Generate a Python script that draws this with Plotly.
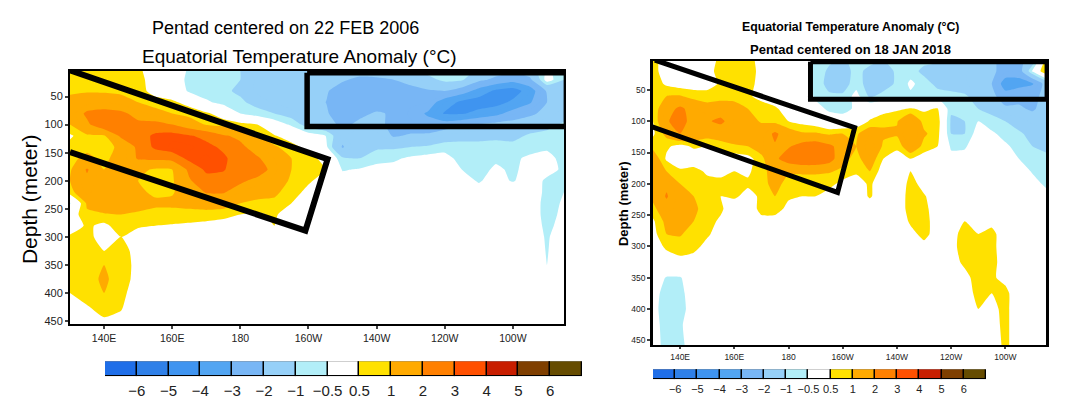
import plotly.graph_objects as go

lons = [130,135,140,145,150,155,160,165,170,175,180,185,190,195,200,205,210,215,220,225,230,235,240,245,250,255,260,265,270,275]
depths = [3,20,40,60,80,100,120,140,160,180,200,220,240,260,280,300,325,350,375,400,425,458]

temp_2006 = [
[0.7,0.7,0.6,0.8,0.6,0.2,0,-0.6,-0.8,-0.9,-1.0,-1.3,-1.2,-1.4,-1.5,-1.6,-1.7,-1.8,-1.7,-1.5,-1.2,-0.7,-0.3,-0.4,-1.2,-1.6,-1.8,-1.4,-0.4,-0.8],
[0.8,0.9,0.6,0.8,0.7,0.2,0,-0.7,-0.9,-0.9,-1.0,-1.6,-1.3,-1.6,-1.7,-1.8,-1.95,-2.1,-2.1,-2.0,-1.8,-1.3,-0.8,-0.9,-1.8,-2.2,-2.6,-2.2,-0.2,-1.0],
[0.9,0.95,0.9,0.85,0.7,0.3,0.1,-0.6,-0.8,-0.9,-1.1,-1.6,-1.7,-1.8,-1.9,-1.95,-2.2,-2.3,-2.3,-2.4,-2.2,-2.1,-2.0,-2.5,-3.4,-4.2,-4.5,-3.5,-1.9,-1.6],
[1.2,1.3,1.5,1.3,1.0,0.7,0.6,0.3,-0.4,-0.7,-0.9,-1.2,-1.6,-1.8,-2.0,-2.0,-2.4,-2.5,-2.5,-2.4,-2.4,-2.5,-3.5,-4.2,-4.5,-4.4,-3.8,-3.1,-2.0,-1.7],
[1.2,2.2,2.3,2.2,1.7,1.3,1.0,0.8,0.6,0.2,-0.5,-0.8,-1.0,-1.3,-1.7,-1.9,-2.4,-2.2,-1.9,-2.1,-2.6,-3.1,-4.1,-4.1,-3.7,-3.3,-2.6,-2.2,-1.7,-1.3],
[1.0,1.8,2.8,2.3,2.2,2.3,2.0,1.4,0.95,0.8,0.7,0.5,-0.1,-0.6,-1.3,-1.6,-2.2,-1.8,-1.8,-2.2,-2.4,-2.7,-2.5,-2.2,-1.9,-1.7,-1.6,-1.4,-1.2,-0.9],
[0.4,0.9,0.9,2.2,2.5,3.2,3.4,3.1,2.7,2.1,1.8,1.0,0.55,0.2,-0.2,-0.5,-1.6,-1.1,-1.3,-2.1,-1.9,-1.8,-1.4,-1.2,-1.2,-1.2,-1.2,-0.9,-0.8,-0.7],
[0.7,0.9,0.7,1.2,2.2,3.2,3.6,3.6,3.3,2.8,2.2,1.6,1.1,0.7,0.3,-0.3,-2.1,-1.0,-1.1,-1.1,-1.0,-0.9,-0.7,-0.8,-0.8,-0.7,-0.8,-0.7,-0.6,-0.6],
[0.9,1.1,0.9,1.2,2.1,2.2,2.3,3.3,3.6,3.2,2.4,2.1,1.5,1.0,0.7,0.3,-0.9,-1.0,-0.7,-0.6,-0.4,-0.3,-0.3,-0.7,-0.9,-0.6,-0.6,-0.4,-0.3,-0.7],
[0.9,2.1,1.0,1.1,1.2,0.9,1.0,2.2,3.2,3.1,2.3,2.6,1.6,1.0,0.9,0.5,-0.55,-0.45,-0.3,-0.3,-0.2,-0.2,-0.2,-0.5,-0.7,-0.4,-0.6,-0.3,-0.3,-0.6],
[1.0,1.8,1.2,1.2,1.0,0.8,0.9,1.9,2.6,2.5,2.2,1.7,1.4,0.9,0.6,0.2,-0.2,-0.1,-0.1,-0.1,-0.1,-0.1,-0.1,-0.3,-0.55,-0.3,-0.55,-0.2,-0.6,-0.7],
[0.8,1.6,1.2,1.3,1.1,0.9,0.95,1.3,2.1,2.1,1.5,1.2,1.1,0.8,0.3,0,0,0,0,0,0,0,0,0,-0.3,0,0,0,-0.7,-0.5],
[-0.55,1.1,1.4,1.4,1.3,1.1,1.1,1.2,1.3,1.3,1.0,0.9,0.9,0.5,0,0,0,0,0,0,0,0,0,0,0,0,0,0,-0.8,-0.4],
[0.1,0.9,0.95,1.0,0.9,0.85,0.85,0.8,0.8,0.7,0.5,0.4,0.6,0.1,0,0,0,0,0,0,0,0,0,0,0,0,0,0,-0.8,-0.3],
[0.1,0.6,0.35,0.8,0.6,0.5,0.45,0.4,0.3,0.2,0.1,0.1,0.5,0,0,0,0,0,0,0,0,0,0,0,0,0,0,0,-0.7,-0.2],
[0.6,0.7,0.2,0.5,0.1,0,0,0,0,0,0,0,0,0,0,0,0,0,0,0,0,0,0,0,0,0,0,0,-0.6,0],
[0.7,0.8,0.5,0.8,0.2,0,0,0,0,0,0,0,0,0,0,0,0,0,0,0,0,0,0,0,0,0,0,0,-0.55,0],
[0.8,0.8,1.0,0.8,0.3,0,0,0,0,0,0,0,0,0,0,0,0,0,0,0,0,0,0,0,0,0,0,0,-0.5,0],
[0.7,0.8,1.1,0.75,0.3,0,0,0,0,0,0,0,0,0,0,0,0,0,0,0,0,0,0,0,0,0,0,0,-0.3,0],
[0.5,0.8,1.0,0.65,0.2,0,0,0,0,0,0,0,0,0,0,0,0,0,0,0,0,0,0,0,0,0,0,0,0,0],
[0.3,0.45,0.75,0.55,0.1,0,0,0,0,0,0,0,0,0,0,0,0,0,0,0,0,0,0,0,0,0,0,0,0,0],
[0,0.2,0.3,0.3,0,0,0,0,0,0,0,0,0,0,0,0,0,0,0,0,0,0,0,0,0,0,0,0,0,0],
]

temp_2018 = [
[0.7,0.2,0.1,0.1,0.1,0.7,0.8,0.8,0.2,0.1,0,0,-0.6,-0.9,-1.1,-0.8,-0.8,-1.0,-0.9,-0.4,-0.8,-0.9,-1.0,-1.2,-1.7,-1.9,-2.2,-2.3,-1.5,0.7],
[0.7,0.2,0.1,0.1,0.2,0.8,0.9,0.8,0.3,0,0,0,-0.7,-1.1,-1.3,-0.8,-1.2,-1.3,-0.9,-0.7,-1.2,-1.3,-1.3,-1.4,-1.9,-1.8,-2.4,-2.5,-0.4,1.1],
[0.8,0.4,0.2,0.2,0.2,0.6,0.9,0.7,0.3,0.1,0,0,-0.7,-1.2,-1.3,-0.7,-1.3,-1.3,-0.9,-0.4,-0.7,-1.2,-1.3,-1.4,-1.9,-2.0,-3.5,-3.4,-3.1,-1.6],
[0.6,1.0,1.05,0.8,0.8,0.7,0.7,0.6,0.3,0.1,0.1,0,-0.6,-0.9,-0.9,-0.3,-1.1,-0.8,-0.7,-0.6,-0.6,-0.7,-0.8,-0.9,-1.3,-1.7,-2.6,-2.2,-2.2,-1.8],
[0.6,1.6,2.2,1.6,1.2,1.5,1.4,1.0,0.8,0.6,0.2,-0.1,-0.3,-0.6,-0.7,-0.4,0.1,0.2,0.4,0.55,0.4,0.55,-0.9,-0.9,-1.0,-1.2,-1.8,-1.9,-2.1,-1.7],
[0.5,1.9,2.4,1.6,1.9,2.2,1.5,1.2,0.95,0.8,0.5,0.3,0.1,-0.2,-0.2,0.1,0.55,0.9,0.95,1.7,0.8,0.8,-1.1,-1.0,-0.5,-0.8,-1.0,-1.3,-1.6,-1.6],
[0.4,1.2,2.0,1.5,1.3,1.4,1.5,1.5,1.3,2.2,1.4,1.1,1.1,0.9,1.0,0.9,1.5,1.1,1.1,2.0,1.1,0.7,-1.0,-1.0,-0.2,-0.4,-0.7,-0.9,-1.2,-1.4],
[0.8,0.6,0.3,0.6,0.5,0.7,0.9,1.0,1.4,1.9,1.9,2.4,2.6,2.2,1.6,1.0,1.8,0.9,0.6,1.6,0.8,0.5,-0.6,-0.6,0,-0.2,-0.4,-0.7,-1.0,-1.1],
[1.5,0.4,0.1,0.1,0.1,0.2,0.2,0.3,0.8,1.8,2.5,2.9,2.9,2.5,1.2,0.8,1.4,0.5,0.3,0.5,0.2,0,-0.3,-0.2,-0.1,0,-0.2,-0.5,-0.8,-0.9],
[1.5,1.0,0.6,0.7,0.4,0.4,0.5,0.4,0.8,1.3,1.1,1.1,1.1,1.05,0.9,0.6,1.0,0.2,0.1,0.5,0.1,0,0,0,0,0,0,-0.2,-0.55,-0.7],
[1.6,1.8,1.0,0.9,0.7,0.6,0.7,0.6,0.7,1.3,0.7,0.7,0.7,0.7,0.3,0.2,0.6,0.1,0,0.7,0.3,0,0,0,0,0,0,0,-0.3,-0.6],
[1.2,2.1,1.2,1.0,0.8,0.5,0.6,0.3,0.6,1.0,0.6,0.5,0.5,0.2,0,0,0.6,0,0,0.8,0.55,0.2,0,0,0,0,0,0,-0.3,-0.3],
[0.8,1.6,1.4,1.1,0.8,0.6,0.1,0.1,0.7,0.8,0.3,0.1,0,0,0,0,0,0,0,0.8,0.7,0.1,0,0,0,0,0,0,0,0],
[0.4,1.2,1.2,1.0,0.7,0.4,0,0,0.3,0.2,0,0,0,0,0,0,0,0,0,0.6,0.8,0.1,0.1,0.5,0.1,0.3,0,0,0,0],
[0.3,1.0,1.05,0.8,0.6,0.2,0,0,0,0,0,0,0,0,0,0,0,0,0,0.3,0.7,0.2,0.2,0.8,0.5,0.7,0.1,0,0,0],
[0.2,0.6,0.8,0.7,0.3,0.1,0,0,0,0,0,0,0,0,0,0,0,0,0,0,0.3,0,0.2,0.9,0.9,0.7,0.1,0,0,0],
[0,0.2,0.3,0.2,0,0,0,0,0,0,0,0,0,0,0,0,0,0,0,0,0,0,0.1,0.7,0.9,0.7,0.2,0,0,0],
[-0.1,-0.55,-0.55,-0.1,0,0,0,0,0,0,0,0,0,0,0,0,0,0,0,0,0,0,0,0.2,0.9,0.6,0.3,0,0,0],
[-0.2,-0.8,-0.7,-0.1,0,0,0,0,0,0,0,0,0,0,0,0,0,0,0,0,0,0,0,0,0.8,0.5,0.7,0,0,0],
[-0.3,-0.8,-0.8,-0.1,0,0,0,0,0,0,0,0,0,0,0,0,0,0,0,0,0,0,0,0,0.5,0.3,0.7,0,0,0],
[-0.2,-0.8,-0.6,-0.1,0,0,0,0,0,0,0,0,0,0,0,0,0,0,0,0,0,0,0,0,0,0.2,0.7,0,0,0],
[-0.1,-0.8,-0.7,-0.1,0,0,0,0,0,0,0,0,0,0,0,0,0,0,0,0,0,0,0,0,0,0,0.7,0,0,0],
]

band_edges = [-6.25,-6,-5,-4,-3,-2,-1,-0.5,0.5,1,2,3,4,5,6,6.25]
band_colors = ["#1f6ee8","#2f80e8","#3f94f0","#52a5f2","#78b6f5","#96d0f8","#b2eef8","#ffffff",
               "#ffe100","#ffaa00","#ff8000","#ff5000","#c81e00","#7f3f00","#664c00"]
band_labels = ["\u22126","\u22125","\u22124","\u22123","\u22122","\u22121","\u22120.5","0.5","1","2","3","4","5","6"]
band_index = list(range(15))
band_height = [1]*15
label_pos = [0.5,1.5,2.5,3.5,4.5,5.5,6.5,7.5,8.5,9.5,10.5,11.5,12.5,13.5]

lon_ticks = [140,160,180,200,220,240,260]
lon_labels = ["140E","160E","180","160W","140W","120W","100W"]
depth_ticks = [50,100,150,200,250,300,350,400,450]

slant_2006_lon = [129.4,205.6,199.1,130.0]
slant_2006_dep = [2,161.7,289,149]
rect_2006_lon = [199.6,275.7,275.7,199.6,199.6]
rect_2006_dep = [7.4,7.4,103.2,103.2,7.4]
slant_2018_lon = [130.7,204.4,198.1,129.6]
slant_2018_dep = [2.3,110.4,213.8,108.8]
rect_2018_lon = [188.1,275.4,275.4,188.1,188.1]
rect_2018_dep = [4.9,4.9,65.1,65.1,4.9]

W, H = 1061, 402
def fx(px): return (px-8)/W
def fy(py): return 1-(py-8)/H

scale = []
for i, c in enumerate(band_colors):
    scale.append([(band_edges[i]+6.25)/12.5, c])
    scale.append([(band_edges[i+1]+6.25)/12.5, c])

fig = go.Figure()
def add_contour(z, xa, ya):
    fig.add_trace(go.Contour(x=lons, y=depths, z=z, xaxis=xa, yaxis=ya, colorscale=scale, zmin=-6.25, zmax=6.25,
        autocontour=False, contours=dict(start=-6, end=6, size=0.5, coloring="fill", showlines=False),
        line=dict(width=0, smoothing=0.5), showscale=False, hoverinfo="skip"))
add_contour(temp_2006, "x", "y")
add_contour(temp_2018, "x2", "y2")

def add_line(xs, ys, xa, ya, w):
    fig.add_trace(go.Scatter(x=xs, y=ys, xaxis=xa, yaxis=ya, mode="lines", cliponaxis=False,
        line=dict(color="black", width=w), showlegend=False, hoverinfo="skip"))
add_line(slant_2006_lon, slant_2006_dep, "x", "y", 6)
add_line(rect_2006_lon, rect_2006_dep, "x", "y", 5.5)
add_line(slant_2018_lon, slant_2018_dep, "x2", "y2", 5)
add_line(rect_2018_lon, rect_2018_dep, "x2", "y2", 5)

for xa, ya in (("x3","y3"),("x4","y4")):
    fig.add_trace(go.Bar(x=band_index, y=band_height, xaxis=xa, yaxis=ya, width=1,
        marker=dict(color=band_colors, line=dict(color="black", width=1.3)), showlegend=False, hoverinfo="skip"))

FONT = "Liberation Sans"
def xaxis(dom, size, lw, anchor, tl):
    return dict(domain=[fx(dom[0]),fx(dom[1])], range=[130,275], tickvals=lon_ticks, ticktext=lon_labels, anchor=anchor,
        ticks="outside", ticklen=tl, tickwidth=1.5, showline=True, mirror=True, linewidth=lw, linecolor="black",
        showgrid=False, zeroline=False, tickangle=0, tickfont=dict(family=FONT, size=size, color="#222"))
def yaxis(dom, rng, size, lw, anchor):
    return dict(domain=[fy(dom[1]),fy(dom[0])], range=rng, tickvals=depth_ticks, anchor=anchor,
        ticks="outside", ticklen=3, tickwidth=1.5, showline=True, mirror=True, linewidth=lw, linecolor="black",
        showgrid=False, zeroline=False, tickfont=dict(family=FONT, size=size, color="#222"))
def cbx(dom, size, anchor, tl):
    return dict(domain=[fx(dom[0]),fx(dom[1])], range=[-0.5,14.5], tickvals=label_pos, ticktext=band_labels, anchor=anchor,
        ticks="outside", ticklen=tl, tickcolor="rgba(0,0,0,0)", showline=False, showgrid=False, zeroline=False, tickangle=0,
        tickfont=dict(family=FONT, size=size, color="#222"))
def cby(dom, anchor):
    return dict(domain=[fy(dom[1]),fy(dom[0])], range=[0,1], visible=False, anchor=anchor)

def text(s, px, py, size, angle=0, bold=False):
    return dict(text=("<b>%s</b>" % s) if bold else s, x=fx(px), y=fy(py), xref="paper", yref="paper", showarrow=False,
        xanchor="center", yanchor="middle", textangle=angle, font=dict(family=FONT, size=size, color="black"))

fig.update_layout(width=W, height=H, autosize=False, margin=dict(l=0,r=0,t=0,b=0), paper_bgcolor="white",
    plot_bgcolor="white", showlegend=False, bargap=0,
    xaxis=xaxis((70,564),10.5,2,"y",3), yaxis=yaxis((71,326),[456,3.9],11,2,"x"),
    xaxis2=xaxis((653,1046),8.5,2,"y2",2), yaxis2=yaxis((61,347),[458,3.4],8.5,2.5,"x2"),
    xaxis3=cbx((105,582),15,"y3",1), yaxis3=cby((363,378),"x3"),
    xaxis4=cbx((653,986),11,"y4",0), yaxis4=cby((371,381),"x4"),
    annotations=[
        text("Pentad centered on 22 FEB 2006", 285, 28, 18),
        text("Equatorial Temperature Anomaly (\u00b0C)", 299, 57, 19),
        text("Depth (meter)", 29, 200, 21, -90),
        text("Equatorial Temperature Anomaly (\u00b0C)", 850, 27, 12.3, bold=True),
        text("Pentad centered on 18 JAN 2018", 850, 50, 13, bold=True),
        text("Depth (meter)", 623, 205, 13, -90, bold=True),
    ])
fig.write_html("out.html")
